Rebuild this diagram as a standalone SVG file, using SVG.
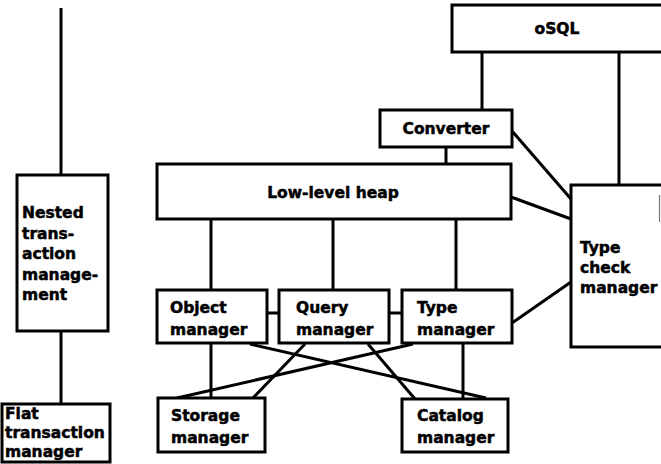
<svg xmlns="http://www.w3.org/2000/svg" width="661" height="464" viewBox="0 0 661 464">
<style>
.box{fill:#fff;stroke:#000;stroke-width:3}
.ln{stroke:#000;stroke-width:3;fill:none;stroke-linecap:butt}
text{font-family:"DejaVu Sans","Liberation Sans",sans-serif;font-weight:bold;font-size:15.5px;fill:#000;stroke:#000;stroke-width:0.5}
.c{text-anchor:middle}
</style>
<rect width="661" height="464" fill="#fff"/>
<g id="connectors">
<line class="ln" x1="61" y1="8" x2="61" y2="175"/>
<line class="ln" x1="61" y1="331" x2="61" y2="404"/>
<line class="ln" x1="482" y1="52" x2="482" y2="110"/>
<line class="ln" x1="619" y1="52" x2="619" y2="185"/>
<line class="ln" x1="446" y1="147" x2="446" y2="164"/>
<line class="ln" x1="512" y1="131" x2="571" y2="199"/>
<line class="ln" x1="511" y1="197" x2="571" y2="219"/>
<line class="ln" x1="211" y1="219" x2="211" y2="290"/>
<line class="ln" x1="333" y1="219" x2="333" y2="290"/>
<line class="ln" x1="456" y1="219" x2="456" y2="290"/>
<line class="ln" x1="267" y1="313" x2="279" y2="313"/>
<line class="ln" x1="389" y1="313" x2="402" y2="313"/>
<line class="ln" x1="512" y1="323" x2="571" y2="282"/>
<line class="ln" x1="211" y1="343" x2="211" y2="398"/>
<line class="ln" x1="463" y1="343" x2="463" y2="399"/>
<line class="ln" x1="250" y1="344" x2="486" y2="398"/>
<line class="ln" x1="413" y1="344" x2="177" y2="398"/>
<line class="ln" x1="305" y1="344" x2="253" y2="398"/>
<line class="ln" x1="368" y1="344" x2="415" y2="399"/>
</g>
<g id="nested">
<rect class="box" x="17" y="175" width="91" height="156"/>
<text x="22" y="218">Nested</text>
<text x="22" y="238.5">trans-</text>
<text x="22" y="259">action</text>
<text x="22" y="279.5">manage-</text>
<text x="22" y="300">ment</text>
</g>
<g id="flat">
<rect class="box" x="2" y="404" width="108" height="58"/>
<text x="5" y="418.5">Flat</text>
<text x="5" y="437.5">transaction</text>
<text x="5" y="456.5">manager</text>
</g>
<g id="osql">
<rect class="box" x="452" y="5" width="212" height="47"/>
<text class="c" x="557" y="34">oSQL</text>
</g>
<g id="converter">
<rect class="box" x="380" y="110" width="132" height="37"/>
<text class="c" x="446" y="134">Converter</text>
</g>
<g id="heap">
<rect class="box" x="157" y="164" width="354" height="55"/>
<text class="c" x="333" y="198">Low-level heap</text>
</g>
<g id="typecheck">
<rect class="box" x="571" y="185" width="95" height="162"/>
<line x1="659.5" y1="195" x2="659.5" y2="222" stroke="#777" stroke-width="1.2"/>
<text x="580" y="253">Type</text>
<text x="580" y="273">check</text>
<text x="580" y="293">manager</text>
</g>
<g id="object">
<rect class="box" x="157" y="290" width="110" height="53"/>
<text x="170" y="313">Object</text>
<text x="170" y="335">manager</text>
</g>
<g id="query">
<rect class="box" x="279" y="290" width="110" height="53"/>
<text x="296" y="313">Query</text>
<text x="296" y="335">manager</text>
</g>
<g id="type">
<rect class="box" x="402" y="290" width="110" height="53"/>
<text x="417" y="313">Type</text>
<text x="417" y="335">manager</text>
</g>
<g id="storage">
<rect class="box" x="158" y="398" width="107" height="54"/>
<text x="171" y="421">Storage</text>
<text x="171" y="443">manager</text>
</g>
<g id="catalog">
<rect class="box" x="402" y="399" width="106" height="53"/>
<text x="417" y="421">Catalog</text>
<text x="417" y="443">manager</text>
</g>
</svg>
